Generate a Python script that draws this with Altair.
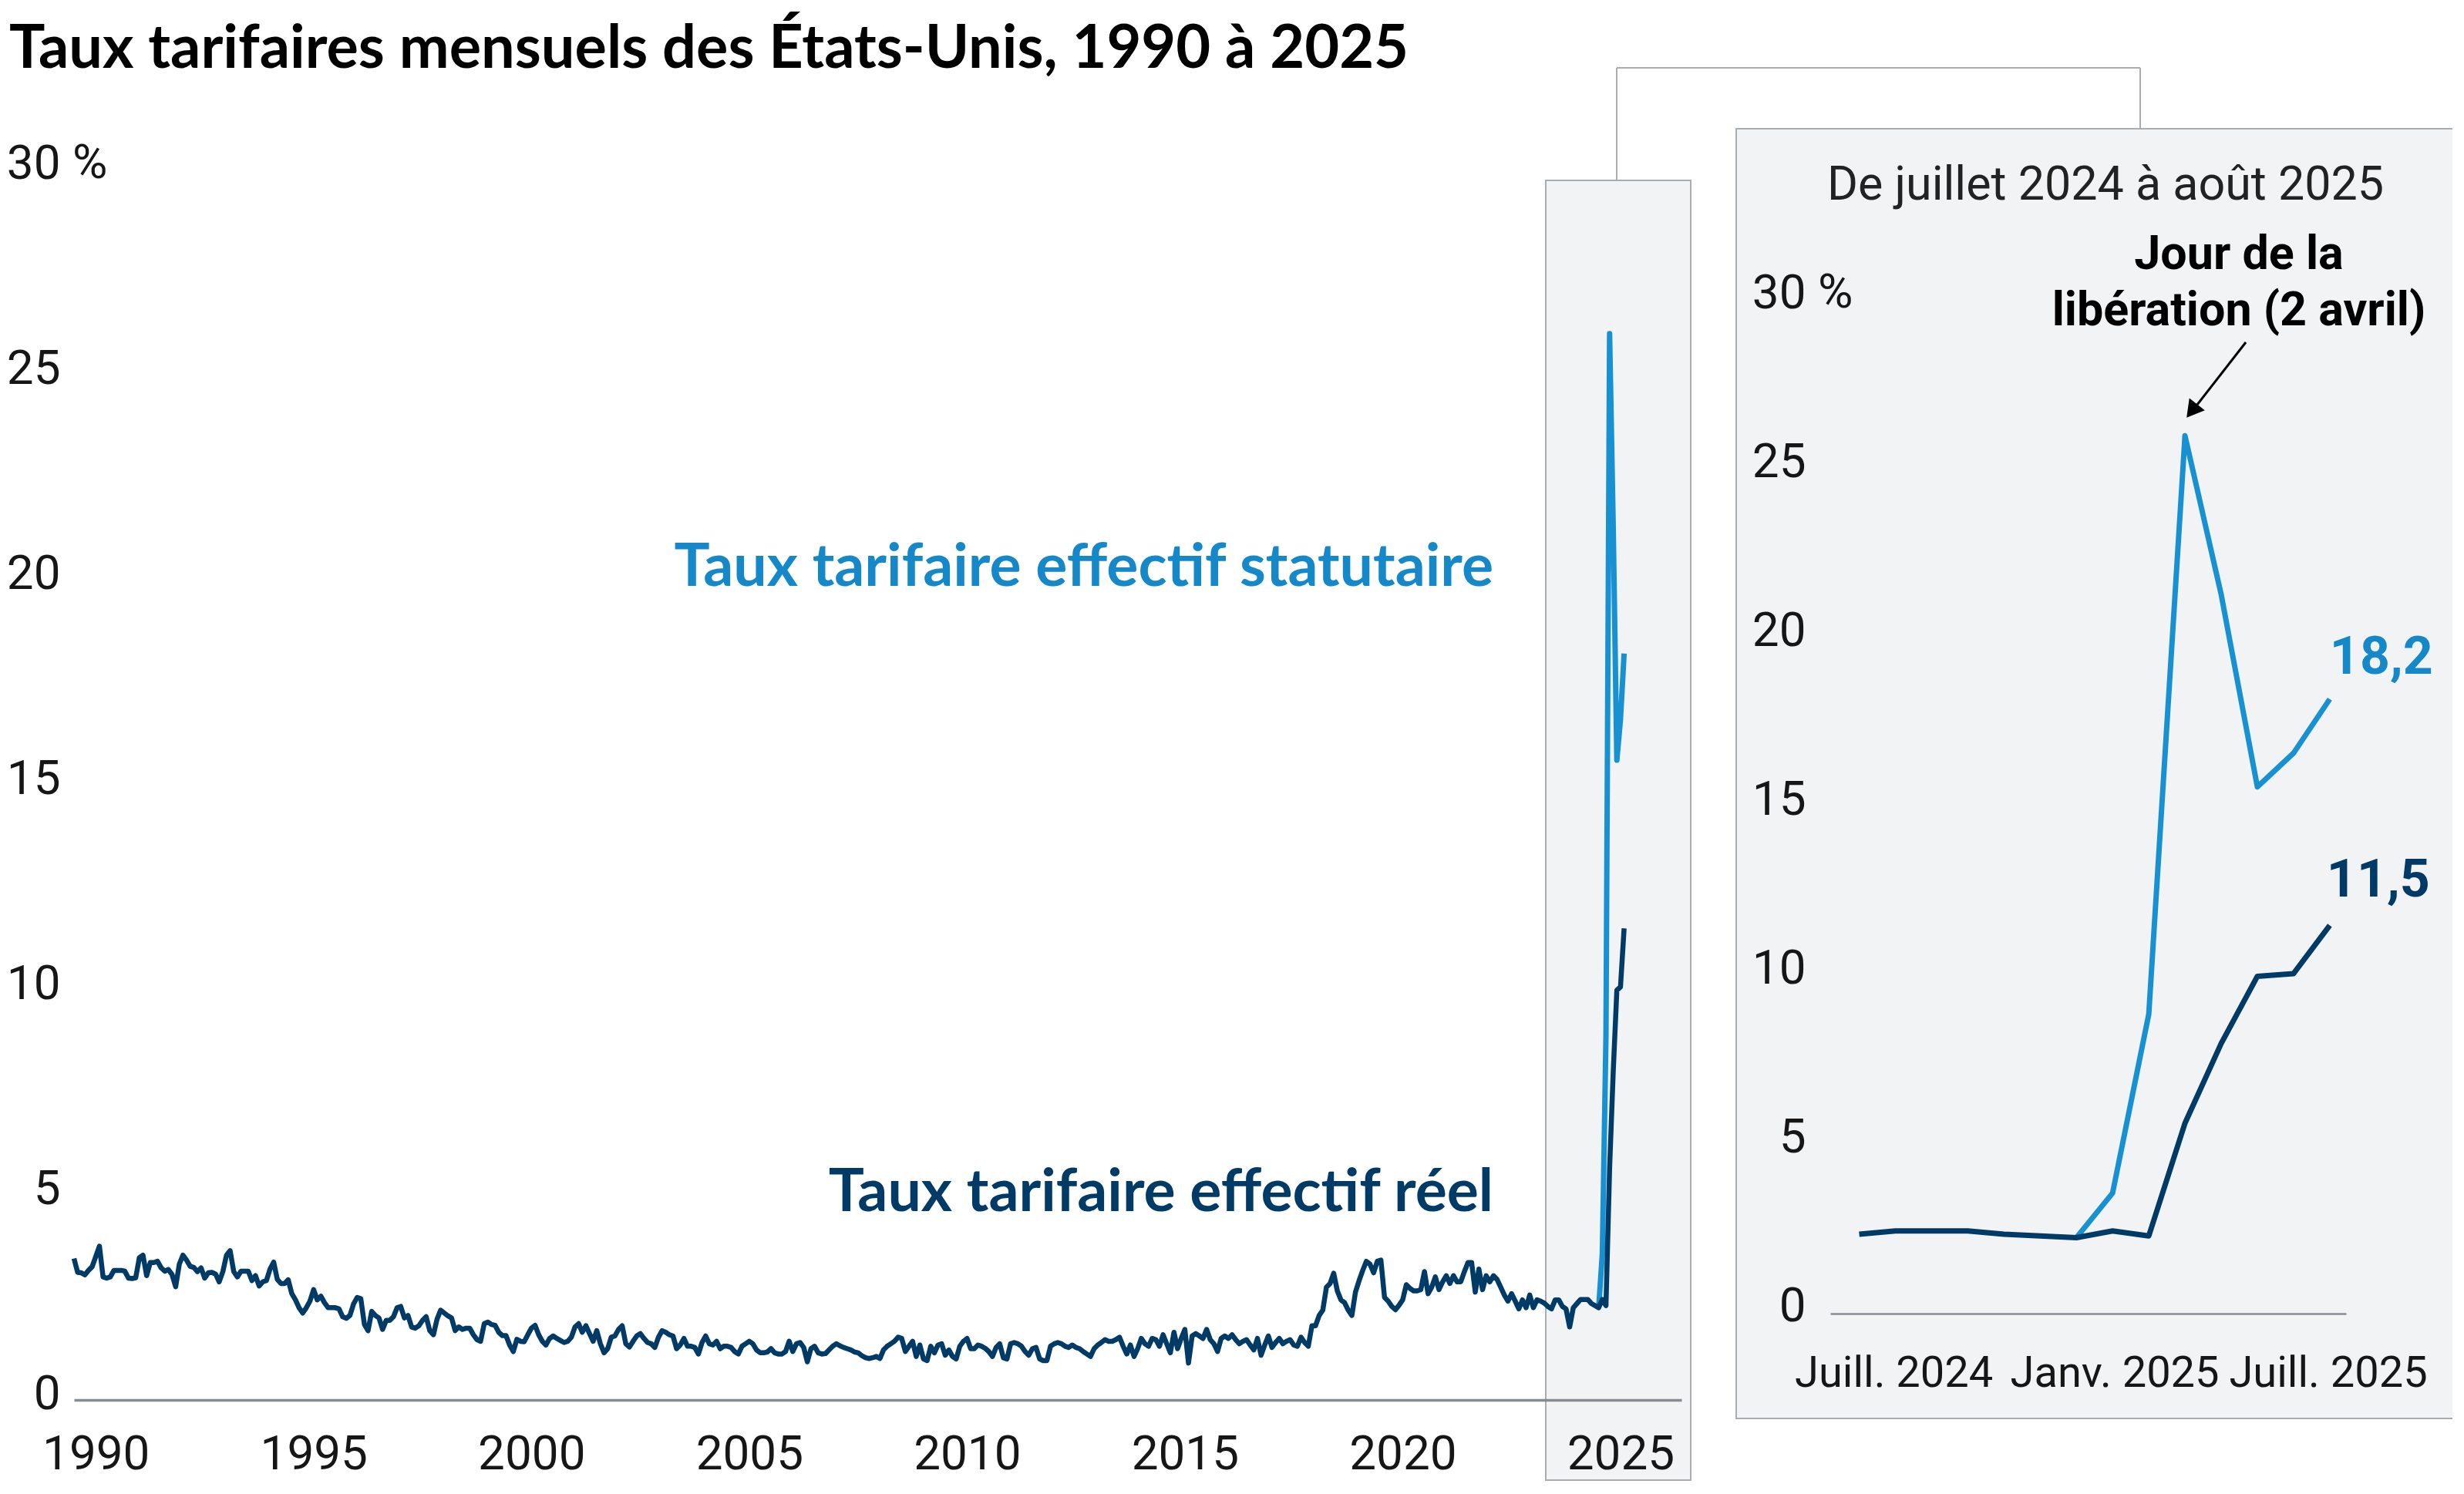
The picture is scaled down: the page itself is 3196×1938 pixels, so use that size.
import altair as alt
import pandas as pd

# ---------------- data (monthly, %) ----------------
# Taux tarifaire effectif réel, Jan 1990 ... Aug 2025 (one value per month)
real_1990s = [
    3.45, 3.11, 3.10, 3.05, 3.16, 3.25, 3.50, 3.75, 3.00, 2.97, 3.00, 3.16,
    3.16, 3.16, 3.14, 2.97, 2.96, 2.98, 3.47, 3.53, 3.03, 3.35, 3.35, 3.38,
    3.22, 3.14, 3.18, 3.06, 2.76, 3.31, 3.53, 3.41, 3.26, 3.23, 3.13, 3.22,
    2.97, 3.10, 3.11, 3.07, 2.88, 3.13, 3.53, 3.64, 3.13, 3.00, 3.14, 3.14,
    3.14, 2.91, 3.03, 2.78, 2.88, 2.91, 3.19, 3.36, 2.94, 2.84, 2.84, 2.93,
    2.59, 2.44, 2.25, 2.12, 2.25, 2.41, 2.69, 2.44, 2.53, 2.37, 2.25, 2.25,
    2.25, 2.22, 2.03, 1.99, 2.06, 2.34, 2.50, 2.47, 1.84, 1.69, 2.16, 2.06,
    2.00, 1.72, 1.94, 1.94, 2.03, 2.25, 2.28, 2.00, 2.06, 1.78, 1.75, 1.81,
    1.94, 2.03, 1.69, 1.59, 1.97, 2.19, 2.12, 2.05, 2.00, 1.69, 1.78, 1.72,
    1.75, 1.75, 1.59, 1.47, 1.43, 1.86, 1.90, 1.84, 1.82, 1.65, 1.57, 1.57,
]
real_2000s = [
    1.34, 1.18, 1.48, 1.43, 1.42, 1.59, 1.75, 1.82, 1.59, 1.43, 1.34, 1.50,
    1.56, 1.50, 1.45, 1.40, 1.43, 1.53, 1.78, 1.86, 1.65, 1.81, 1.62, 1.43,
    1.69, 1.37, 1.15, 1.25, 1.53, 1.56, 1.72, 1.81, 1.37, 1.29, 1.43, 1.56,
    1.62, 1.50, 1.40, 1.37, 1.28, 1.53, 1.69, 1.65, 1.59, 1.56, 1.25, 1.34,
    1.50, 1.31, 1.31, 1.28, 1.12, 1.40, 1.56, 1.37, 1.34, 1.43, 1.25, 1.31,
    1.31, 1.28, 1.18, 1.12, 1.31, 1.37, 1.43, 1.37, 1.22, 1.15, 1.15, 1.17,
    1.25, 1.15, 1.12, 1.12, 1.18, 1.43, 1.18, 1.37, 1.40, 1.28, 0.93, 1.25,
    1.31, 1.15, 1.12, 1.13, 1.22, 1.31, 1.37, 1.32, 1.28, 1.25, 1.22, 1.17,
    1.15, 1.08, 1.03, 1.01, 1.03, 1.06, 1.01, 1.22, 1.31, 1.37, 1.43, 1.53,
    1.50, 1.18, 1.31, 1.43, 1.06, 1.34, 1.00, 0.96, 1.31, 1.15, 1.34, 1.37,
]
real_2010s = [
    1.09, 1.22, 1.06, 1.00, 1.31, 1.43, 1.50, 1.25, 1.25, 1.34, 1.31, 1.26,
    1.18, 1.06, 1.28, 1.37, 1.03, 1.00, 1.37, 1.40, 1.37, 1.31, 1.18, 1.09,
    1.25, 1.28, 1.00, 0.96, 0.96, 1.31, 1.37, 1.40, 1.37, 1.31, 1.28, 1.34,
    1.28, 1.25, 1.18, 1.12, 1.06, 1.25, 1.34, 1.40, 1.47, 1.43, 1.43, 1.47,
    1.53, 1.31, 1.12, 1.34, 1.06, 1.25, 1.50, 1.37, 1.31, 1.50, 1.47, 1.31,
    1.59, 1.37, 1.15, 1.65, 1.25, 1.50, 1.72, 0.90, 1.56, 1.62, 1.56, 1.50,
    1.72, 1.47, 1.37, 1.18, 1.50, 1.56, 1.50, 1.59, 1.47, 1.37, 1.43, 1.47,
    1.34, 1.22, 1.50, 1.09, 1.34, 1.56, 1.28, 1.40, 1.50, 1.37, 1.43, 1.47,
    1.34, 1.31, 1.53, 1.40, 1.31, 1.81, 1.81, 2.06, 2.19, 2.75, 2.84, 3.09,
    2.66, 2.44, 2.37, 2.19, 2.06, 2.63, 2.91, 3.16, 3.38, 3.31, 3.10, 3.38,
]
real_2020s = [
    3.41, 2.50, 2.41, 2.28, 2.20, 2.31, 2.44, 2.81, 2.72, 2.66, 2.66, 2.69,
    3.13, 2.59, 2.75, 3.00, 2.69, 2.88, 3.03, 2.84, 3.03, 2.88, 2.88, 3.13,
    3.35, 3.35, 2.63, 3.19, 2.69, 3.03, 2.88, 3.03, 2.94, 2.75, 2.56, 2.41,
    2.59, 2.41, 2.22, 2.44, 2.25, 2.56, 2.25, 2.44, 2.41, 2.36, 2.28, 2.22,
    2.44, 2.44, 2.28, 2.22, 1.78, 2.25, 2.35, 2.45, 2.45, 2.45, 2.35, 2.30,
    2.25, 2.45, 2.30, 5.64, 8.00, 9.99, 10.07, 11.50,
]
# Taux tarifaire effectif statutaire, Jan ... Aug 2025
stat_2025 = [2.25, 3.57, 8.87, 26.0, 21.3, 15.6, 16.6, 18.2]

year_ticks = [1990, 1995, 2000, 2005, 2010, 2015, 2020, 2025]
pct_ticks = [0, 5, 10, 15, 20, 25, 30]
inset_label_pos = [0.95, 7.05, 12.95]
inset_tick_labels = ["Juill. 2024", "Janv. 2025", "Juill. 2025"]
inset_first_index = 414  # July 2024 in the monthly series

TITLE = "Taux tarifaires mensuels des États-Unis, 1990 à 2025"
INSET_TITLE = "De juillet 2024 à août 2025"
LBL_STAT = "Taux tarifaire effectif statutaire"
LBL_REAL = "Taux tarifaire effectif réel"
ANNOT = ["Jour de la", "libération (2 avril)"]

# ---------------- tables ----------------
real = real_1990s + real_2000s + real_2010s + real_2020s
main_real = pd.DataFrame({"t": [1990 + i / 12 for i in range(len(real))], "v": real})
main_stat = pd.DataFrame({"t": [2025 + i / 12 for i in range(len(stat_2025))], "v": stat_2025})

inset_real_vals = real[inset_first_index:]
inset_real = pd.DataFrame({"m": list(range(len(inset_real_vals))), "v": inset_real_vals})
stat_start = len(inset_real_vals) - len(stat_2025)
inset_stat = pd.DataFrame({"m": list(range(stat_start, stat_start + len(stat_2025))), "v": stat_2025})
fmt = lambda x: f"{x:.1f}".replace(".", ",")
end_real = inset_real.tail(1).assign(lab=lambda d: d["v"].map(fmt))
end_stat = inset_stat.tail(1).assign(lab=lambda d: d["v"].map(fmt))


def chain_expr(positions, labels):
    parts = [f"round(datum.value*100) == {round(p * 100)} ? '{l}'" for p, l in zip(positions[:-1], labels[:-1])]
    return " : ".join(parts + [f"'{labels[-1]}'"])


# ---------------- styles ----------------
NAVY = "#003a66"
BLUE = "#1791d1"
BLUE_TXT = "#1488c8"
GRID_GRAY = "#878c93"
BOX_FILL = "#f2f3f5"
BOX_STROKE = "#a9adb2"
COND = "Roboto, Noto Sans, sans-serif"
HEAD = "Lato, Open Sans, sans-serif"
LBL = "#161616"

one = pd.DataFrame({"a": [0]})

# ---------------- main chart ----------------
year_label_pos = [y + 0.5 for y in year_ticks]
x_main = alt.X(
    "t:Q",
    scale=alt.Scale(domain=[1990, 2026.9], nice=False, zero=False),
    axis=alt.Axis(
        orient="bottom", values=year_label_pos,
        labelExpr="'' + floor(datum.value)",
        title=None, grid=False, ticks=False, tickSize=0, domainColor=GRID_GRAY,
        domainWidth=3.4, labelFont=COND, labelFontSize=62, labelColor=LBL,
        labelPadding=40, labelOverlap=False, labelFlush=False, labelLimit=0, zindex=1,
    ),
)
y_main = alt.Y(
    "v:Q",
    scale=alt.Scale(domain=[0, 30], nice=False),
    axis=alt.Axis(
        orient="left", values=pct_ticks, title=None, grid=False, ticks=False,
        tickSize=0, domain=False, labelFont=COND, labelFontSize=62,
        labelColor=LBL, labelAlign="right", labelPadding=18, labelOffset=-8,
        labelOverlap=False, labelLimit=0, zindex=1,
    ),
)

main_stat_line = alt.Chart(main_stat).mark_line(color=BLUE, strokeWidth=7, strokeJoin="round").encode(x=x_main, y=y_main)
main_real_line = alt.Chart(main_real).mark_line(color=NAVY, strokeWidth=6.5, strokeJoin="round").encode(x=x_main, y=y_main)
main_pct = alt.Chart(pd.DataFrame({"v": [pct_ticks[-1]]})).mark_text(
    text="%", font=COND, fontSize=62, color=LBL, align="left", baseline="middle", dy=-8
).encode(x=alt.value(-2), y=y_main)

main = alt.layer(main_stat_line, main_real_line, main_pct)

# ---------------- inset chart ----------------
x_in = alt.X(
    "m:Q",
    scale=alt.Scale(domain=[-0.8, 13.45], range=[2278, 2947], nice=False, zero=False),
    axis=alt.Axis(
        orient="bottom", offset=-112, values=inset_label_pos,
        labelExpr=chain_expr(inset_label_pos, inset_tick_labels),
        title=None, grid=False, ticks=False, tickSize=0, domainColor=GRID_GRAY,
        domainWidth=2.5, labelFont=COND, labelFontSize=56, labelColor=LBL,
        labelPadding=50, labelOverlap=False, labelFlush=False, labelLimit=0, zindex=1,
    ),
)
y_in = alt.Y(
    "v:Q",
    scale=alt.Scale(domain=[0, 30], range=[1484, 170], nice=False),
    axis=alt.Axis(
        orient="left", offset=-2278, values=pct_ticks, title=None, grid=False,
        ticks=False, tickSize=0, domain=False, labelFont=COND, labelFontSize=62,
        labelColor=LBL, labelAlign="right", labelPadding=32, labelOffset=-10,
        labelOverlap=False, labelLimit=0, zindex=1,
    ),
)
in_stat = alt.Chart(inset_stat).mark_line(color=BLUE, strokeWidth=7, strokeJoin="round").encode(x=x_in, y=y_in)
in_real = alt.Chart(inset_real).mark_line(color=NAVY, strokeWidth=7, strokeJoin="round").encode(x=x_in, y=y_in)
in_lab_stat = alt.Chart(end_stat).mark_text(
    font=COND, fontWeight="bold", fontSize=68, color=BLUE_TXT, align="left",
    baseline="alphabetic", dx=0, dy=-33
).encode(x=x_in, y=y_in, text="lab:N")
in_lab_real = alt.Chart(end_real).mark_text(
    font=COND, fontWeight="bold", fontSize=68, color=NAVY, align="left",
    baseline="alphabetic", dx=-4, dy=-37
).encode(x=x_in, y=y_in, text="lab:N")
in_pct = alt.Chart(pd.DataFrame({"v": [pct_ticks[-1]]})).mark_text(
    text="%", font=COND, fontSize=62, color=LBL, align="left", baseline="middle", dy=-10
).encode(x=alt.value(2262), y=y_in)

inset = alt.layer(in_stat, in_real, in_lab_stat, in_lab_real, in_pct)

# ---------------- decorations ----------------
main_box = alt.Chart(one).mark_rect(fill=BOX_FILL, stroke=BOX_STROKE, strokeWidth=2).encode(
    x=alt.value(1909), x2=alt.value(2097), y=alt.value(14), y2=alt.value(1700))
inset_box = alt.Chart(one).mark_rect(fill=BOX_FILL, stroke=BOX_STROKE, strokeWidth=2).encode(
    x=alt.value(2156), x2=alt.value(3094), y=alt.value(-53), y2=alt.value(1620))
conn1 = alt.Chart(one).mark_rule(color=BOX_STROKE, strokeWidth=2).encode(
    x=alt.value(2001), y=alt.value(14), y2=alt.value(-132))
conn2 = alt.Chart(one).mark_rule(color=BOX_STROKE, strokeWidth=2).encode(
    x=alt.value(2001), x2=alt.value(2680), y=alt.value(-132))
conn3 = alt.Chart(one).mark_rule(color=BOX_STROKE, strokeWidth=2).encode(
    x=alt.value(2680), y=alt.value(-132), y2=alt.value(-53))

title = alt.Chart(one).mark_text(
    text=TITLE, font=HEAD, fontWeight="bold", fontSize=77.5, color="#000",
    align="left", baseline="alphabetic"
).encode(x=alt.value(-84), y=alt.value(-132))
lbl_stat = alt.Chart(one).mark_text(
    text=LBL_STAT, font=HEAD, fontWeight="bold", fontSize=77, color=BLUE_TXT,
    align="right", baseline="alphabetic"
).encode(x=alt.value(1841), y=alt.value(540))
lbl_real = alt.Chart(one).mark_text(
    text=LBL_REAL, font=HEAD, fontWeight="bold", fontSize=77, color=NAVY,
    align="right", baseline="alphabetic"
).encode(x=alt.value(1841), y=alt.value(1351))
inset_title = alt.Chart(one).mark_text(
    text=INSET_TITLE, font=COND, fontSize=61, color="#222",
    align="center", baseline="alphabetic"
).encode(x=alt.value(2635), y=alt.value(39))
annot = alt.Chart(one).mark_text(
    text=ANNOT, font=COND, fontWeight="bold", fontSize=61, color="#000",
    align="center", baseline="alphabetic", lineHeight=73
).encode(x=alt.value(2808), y=alt.value(129))
arrow_line = alt.Chart(one).mark_rule(color="#000", strokeWidth=3).encode(
    x=alt.value(2817), y=alt.value(224), x2=alt.value(2750), y2=alt.value(310))
arrow_head = alt.Chart(one).mark_point(
    shape="triangle-up", filled=True, size=650, angle=218, color="#000", opacity=1
).encode(x=alt.value(2747), y=alt.value(313))

chart = alt.layer(
    main_box, inset_box, conn1, conn2, conn3,
    main, inset,
    title, lbl_stat, lbl_real, inset_title, annot, arrow_line, arrow_head,
).resolve_scale(x="independent", y="independent").properties(
    width=2085, height=1596,
    autosize=alt.AutoSizeParams(type="none"),
    padding={"left": 88, "top": 212, "right": 1000, "bottom": 114},
    background="white",
).configure_view(stroke=None)

chart.save("out.html", embed_options={"renderer": "svg", "actions": False})
